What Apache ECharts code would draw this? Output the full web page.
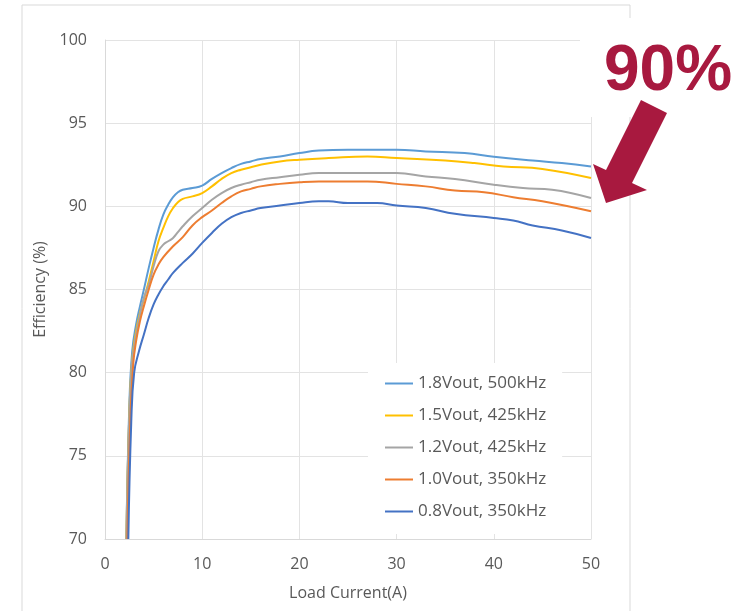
<!DOCTYPE html>
<html>
<head>
<meta charset="utf-8">
<script src="https://cdn.jsdelivr.net/npm/echarts@6/dist/echarts.min.js"></script>
<style>html,body{margin:0;padding:0;background:#fff;}#c{width:739px;height:611px;}</style>
</head>
<body>
<div id="c"></div>
<script>
const seriesNames = ['1.8Vout, 500kHz','1.5Vout, 425kHz','1.2Vout, 425kHz','1.0Vout, 350kHz','0.8Vout, 350kHz'];
const seriesColors = ['#5B9BD5','#FFC000','#A5A5A5','#ED7D31','#4472C4'];
const xTicks = [0,10,20,30,40,50];
const yTicks = [70,75,80,85,90,95,100];

const v18 = [[2.2,70],[2.5,78],[2.8,81.3],[3.2,82.9],[3.6,84.0],[4,85.0],[4.5,86.3],[5,87.5],[5.5,88.6],[6,89.5],[6.5,90.1],[7,90.55],[7.5,90.85],[8,91.0],[9,91.1],[10,91.25],[11,91.65],[12,92.0],[13,92.3],[14,92.55],[15,92.7],[16,92.85],[18,93.0],[20,93.2],[22,93.35],[25,93.4],[30,93.4],[33,93.3],[37,93.2],[40,92.98],[44,92.75],[47,92.6],[50,92.4]];
const v15 = [[2.2,70],[2.5,77.5],[2.8,80.8],[3.2,82.5],[3.6,83.6],[4,84.4],[4.5,85.5],[5,86.7],[5.5,87.9],[6,88.7],[6.5,89.4],[7,89.9],[7.5,90.25],[8,90.45],[9,90.6],[10,90.8],[11,91.2],[12,91.65],[13,92.0],[14,92.2],[15,92.35],[16,92.5],[18,92.7],[20,92.8],[23,92.9],[27,93.0],[30,92.9],[35,92.75],[38,92.6],[41,92.4],[45,92.25],[50,91.7]];
const v12 = [[2.2,70],[2.5,77.5],[2.8,80.7],[3.2,82.3],[3.6,83.5],[4,84.5],[4.5,85.3],[5,86.4],[5.5,87.3],[6,87.7],[6.5,87.9],[7,88.1],[7.5,88.45],[8,88.8],[9,89.4],[10,89.9],[11,90.4],[12,90.8],[13,91.1],[14,91.3],[15,91.45],[16,91.6],[18,91.75],[20,91.9],[22,92.0],[30,92.0],[33,91.8],[36,91.65],[40,91.3],[43,91.1],[46,91.0],[50,90.5]];
const v10 = [[2.3,70],[2.6,77],[2.9,80.5],[3.2,81.9],[3.6,83.1],[4,84.0],[4.5,85.0],[5,85.9],[5.5,86.5],[6,86.95],[7,87.6],[8,88.15],[9,88.85],[10,89.35],[11,89.75],[12,90.2],[13,90.6],[14,90.9],[15,91.05],[16,91.2],[18,91.35],[20,91.45],[22,91.5],[27,91.5],[30,91.35],[33,91.2],[36,90.95],[39,90.85],[42,90.55],[45,90.3],[50,89.7]];
const v08 = [[2.4,70],[2.7,77],[3.0,80],[3.5,81.3],[4,82.3],[4.5,83.3],[5,84.1],[5.5,84.7],[6,85.2],[6.5,85.6],[7,86.0],[8,86.6],[9,87.15],[10,87.8],[11,88.4],[12,88.95],[13,89.35],[14,89.6],[15,89.75],[16,89.9],[18,90.05],[20,90.2],[22,90.3],[23,90.3],[25,90.2],[28,90.2],[30,90.05],[33,89.9],[36,89.55],[40,89.3],[42,89.15],[44,88.85],[47,88.55],[50,88.1]];
const allValues = [v18, v15, v12, v10, v08];

const FONT = "'Open Sans', sans-serif";
const TXT = '#595959';
const chart = echarts.init(document.getElementById('c'), null, {renderer:'canvas'});
chart.setOption({
  animation:false,
  backgroundColor:'#fff',
  grid:{left:105, right:148, top:40, bottom:72, containLabel:false},
  xAxis:{
    type:'value', min:xTicks[0], max:xTicks[xTicks.length-1], interval:10,
    name:'Load Current(A)', nameLocation:'middle', nameGap:46,
    nameTextStyle:{color:TXT, fontSize:16, fontFamily:FONT},
    axisLine:{show:true, lineStyle:{color:'#d9d9d9'}},
    axisTick:{show:false},
    axisLabel:{color:TXT, fontSize:16, fontFamily:FONT, margin:17},
    splitLine:{show:true, lineStyle:{color:'#e3e3e3'}}
  },
  yAxis:{
    type:'value', min:yTicks[0], max:yTicks[yTicks.length-1], interval:5,
    name:'Efficiency (%)', nameLocation:'middle', nameGap:54,
    nameTextStyle:{color:TXT, fontSize:16, fontFamily:FONT},
    axisLine:{show:true, lineStyle:{color:'#d9d9d9'}},
    axisTick:{show:false},
    axisLabel:{color:TXT, fontSize:16, fontFamily:FONT, margin:18},
    splitLine:{show:true, lineStyle:{color:'#e3e3e3'}}
  },
  legend:{
    orient:'vertical', left:368, top:363,
    backgroundColor:'#fff',
    padding:[9,16,11,17],
    icon:'rect',
    itemWidth:28, itemHeight:2, itemGap:9, itemTextGap:2,
    textStyle:{color:TXT, fontSize:17, fontFamily:FONT, lineHeight:23},
    data:seriesNames
  },
  series: seriesNames.map((n,i)=>({
    name:n, type:'line', data:allValues[i], symbol:'none', showSymbol:false,
    smooth:0.45,
    lineStyle:{color:seriesColors[i], width:2},
    itemStyle:{color:seriesColors[i]},
    z:2+i
  })),
  graphic:[
    {type:'rect', z:-1, silent:true, shape:{x:22,y:5,width:608,height:620}, style:{fill:'none', stroke:'#d9d9d9', lineWidth:1}},
    {type:'rect', z:50, silent:true, shape:{x:580,y:18,width:159,height:99}, style:{fill:'#fff'}},
    {type:'text', z:51, left:604, top:40, style:{text:'90%', fill:'#A8193F', font:"bold 64px 'Liberation Sans', Arial, sans-serif"}},
    {type:'polygon', z:51, silent:true, shape:{points:[[641,100],[667,113],[632,183],[647,190],[606,203],[593,164],[606,170]]}, style:{fill:'#A8193F'}}
  ]
});
</script>
</body>
</html>
